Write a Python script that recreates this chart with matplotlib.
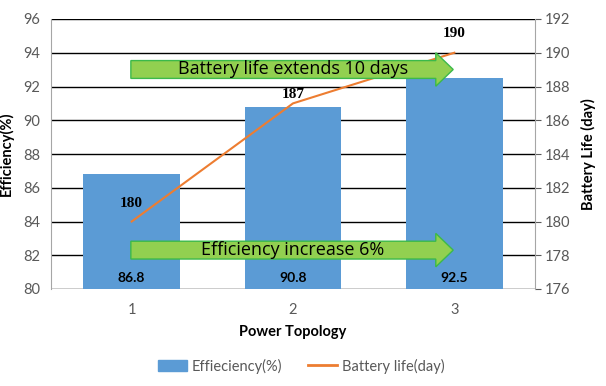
import matplotlib.pyplot as plt
from matplotlib.patches import Polygon
from matplotlib.lines import Line2D
from matplotlib.patches import Patch

topology = [1, 2, 3]
efficiency = [86.8, 90.8, 92.5]
battery_life = [180, 187, 190]
label_offsets = [13, 6.5, 13.7]  # points above line markers

BAR_COLOR = '#5B9BD5'
LINE_COLOR = '#ED7D31'
GREEN = '#92D050'
GREEN_EDGE = '#3CB94A'
TICK_COLOR = '#595959'

plt.rcParams['font.family'] = ['Lato', 'DejaVu Sans']

fig = plt.figure(figsize=(6.06, 3.86), dpi=100)
ax = fig.add_axes([51 / 606, 1 - 289 / 386, 484 / 606, 270 / 386])
ax2 = ax.twinx()

ax.bar(topology, efficiency, width=0.6, color=BAR_COLOR, zorder=2)
ax.set_xlim(0.5, 3.5)
ax.set_ylim(80, 96)
ax.set_yticks(range(80, 97, 2))
ax.yaxis.grid(True, color='black', linewidth=1, zorder=0)
ax.set_axisbelow(True)
ax.set_xticks(topology)
ax.tick_params(axis='both', length=0, colors=TICK_COLOR, labelsize=10.5, pad=8)
ax.tick_params(axis='x', pad=10)
ax.set_xlabel('Power Topology', fontsize=10.5, fontweight='bold', labelpad=6)
ax.set_ylabel('Efficiency(%)', fontsize=10.5, fontweight='bold')
ax.yaxis.set_label_coords(-0.076, 0.5)

for x, v in zip(topology, efficiency):
    ax.text(x, 80.65, f'{v}', ha='center', va='center', fontsize=10,
            fontweight='bold', color='black', zorder=3)

ax2.plot(topology, battery_life, color=LINE_COLOR, linewidth=1.5, zorder=3)
ax2.set_ylim(176, 192)
ax2.set_yticks(range(176, 193, 2))
ax2.tick_params(axis='y', length=4, color=TICK_COLOR, colors=TICK_COLOR,
                labelsize=10.5, pad=3)
ax2.set_ylabel('Battery Life (day)', fontsize=10.5, fontweight='bold', labelpad=8)

for x, v, off in zip(topology, battery_life, label_offsets):
    ax2.annotate(f'{v}', (x, v), xytext=(0, off), textcoords='offset points',
                 ha='center', va='center', fontsize=11, fontweight='bold',
                 family='Liberation Serif')

for a in (ax, ax2):
    for side in ('top', 'bottom', 'left', 'right'):
        a.spines[side].set_visible(False)
ax.spines['left'].set_visible(True)
ax.spines['left'].set_color('#A6A6A6')
ax2.spines['right'].set_visible(True)
ax2.spines['right'].set_color('#A6A6A6')


def add_arrow(y, text):
    # arrow shape in axes fraction coords
    x0, xh, xt = 0.165, 0.795, 0.831
    bh, hh = 0.033, 0.062
    pts = [(x0, y - bh), (xh, y - bh), (xh, y - hh), (xt, y),
           (xh, y + hh), (xh, y + bh), (x0, y + bh)]
    ax2.add_patch(Polygon(pts, closed=True, transform=ax2.transAxes,
                          facecolor=GREEN, edgecolor=GREEN_EDGE,
                          linewidth=1, zorder=5))
    ax2.text(0.5, y, text, transform=ax2.transAxes, ha='center', va='center',
             fontsize=13, family=['Open Sans', 'DejaVu Sans'], zorder=6)


add_arrow(0.813, 'Battery life extends 10 days')
add_arrow(0.144, 'Efficiency increase 6%')

handles = [Patch(color=BAR_COLOR), Line2D([], [], color=LINE_COLOR, linewidth=2)]
fig.legend(handles, ['Effieciency(%)', 'Battery life(day)'], loc='center',
           bbox_to_anchor=(301 / 606, 1 - 366 / 386), ncol=2, frameon=False,
           fontsize=10.5, handlelength=2.0, handletextpad=0.3,
           columnspacing=1.8, labelcolor=TICK_COLOR)

fig.savefig('out.png', dpi=100)
